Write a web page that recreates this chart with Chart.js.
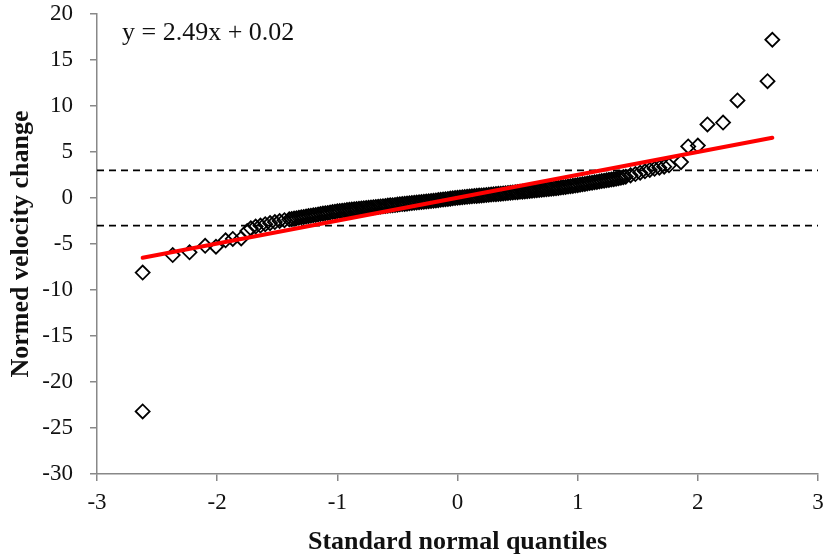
<!DOCTYPE html>
<html>
<head>
<meta charset="utf-8">
<script src="https://cdn.jsdelivr.net/npm/chart.js@4"></script>
<style>
  html, body { margin: 0; padding: 0; background: #fff; }
</style>
</head>
<body>
<canvas id="qqChart" width="827" height="558"></canvas>
<script>
// standard normal quantiles (x) and normed velocity change (y)
var quantiles = [
  -2.62, -2.62, -2.37, -2.23, -2.10, -2.01, -1.93, -1.87, -1.80, -1.75,
  -1.72, -1.68, -1.64, -1.60, -1.56, -1.52, -1.48, -1.44,
  -1.40, -1.38, -1.36, -1.34, -1.32, -1.30, -1.28, -1.26, -1.24, -1.22,
  -1.20, -1.18, -1.16, -1.14, -1.12, -1.10, -1.08, -1.06, -1.04, -1.02,
  -1.00, -0.98, -0.96, -0.94, -0.92, -0.90, -0.88, -0.86, -0.84, -0.82,
  -0.80, -0.78, -0.76, -0.74, -0.72, -0.70, -0.68, -0.66, -0.64, -0.62,
  -0.60, -0.58, -0.56, -0.54, -0.52, -0.50, -0.48, -0.46, -0.44, -0.42,
  -0.40, -0.38, -0.36, -0.34, -0.32, -0.30, -0.28, -0.26, -0.24, -0.22,
  -0.20, -0.18, -0.16, -0.14, -0.12, -0.10, -0.08, -0.06, -0.04, -0.02,
  0.00, 0.02, 0.04, 0.06, 0.08, 0.10, 0.12, 0.14, 0.16, 0.18,
  0.20, 0.22, 0.24, 0.26, 0.28, 0.30, 0.32, 0.34, 0.36, 0.38,
  0.40, 0.42, 0.44, 0.46, 0.48, 0.50, 0.52, 0.54, 0.56, 0.58,
  0.60, 0.62, 0.64, 0.66, 0.68, 0.70, 0.72, 0.74, 0.76, 0.78,
  0.80, 0.82, 0.84, 0.86, 0.88, 0.90, 0.92, 0.94, 0.96, 0.98,
  1.00, 1.02, 1.04, 1.06, 1.08, 1.10, 1.12, 1.14, 1.16, 1.18,
  1.20, 1.22, 1.24, 1.26, 1.28, 1.30, 1.32, 1.34, 1.36, 1.38,
  1.40,
  1.44, 1.48, 1.52, 1.56, 1.60, 1.64, 1.68, 1.72, 1.76, 1.86,
  1.92, 2.00, 2.08, 2.21, 2.33, 2.58, 2.62
];
var velocity = [
  -23.2, -8.1, -6.2, -5.9, -5.2, -5.3, -4.6, -4.45, -4.4, -3.6,
  -3.3, -3.1, -3.0, -2.85, -2.73, -2.61, -2.50, -2.41,
  -2.32, -2.28, -2.23, -2.19, -2.14, -2.10, -2.06, -2.01, -1.97, -1.92,
  -1.88, -1.84, -1.79, -1.75, -1.70, -1.66, -1.62, -1.58, -1.53, -1.49,
  -1.45, -1.42, -1.39, -1.35, -1.32, -1.29, -1.26, -1.23, -1.20, -1.17,
  -1.14, -1.11, -1.08, -1.06, -1.03, -1.00, -0.97, -0.94, -0.92, -0.89,
  -0.86, -0.83, -0.80, -0.78, -0.75, -0.72, -0.69, -0.66, -0.64, -0.61,
  -0.58, -0.55, -0.52, -0.50, -0.47, -0.44, -0.41, -0.38, -0.36, -0.33,
  -0.30, -0.27, -0.23, -0.20, -0.16, -0.13, -0.10, -0.07, -0.03, 0.00,
  0.03, 0.06, 0.08, 0.11, 0.13, 0.16, 0.18, 0.21, 0.23, 0.26,
  0.28, 0.30, 0.33, 0.35, 0.38, 0.40, 0.42, 0.45, 0.47, 0.50,
  0.52, 0.54, 0.57, 0.59, 0.62, 0.64, 0.67, 0.69, 0.72, 0.74,
  0.77, 0.80, 0.82, 0.85, 0.87, 0.90, 0.93, 0.96, 0.98, 1.01,
  1.04, 1.07, 1.10, 1.14, 1.17, 1.20, 1.24, 1.28, 1.32, 1.36,
  1.40, 1.44, 1.49, 1.53, 1.58, 1.62, 1.66, 1.71, 1.75, 1.80,
  1.84, 1.88, 1.92, 1.97, 2.01, 2.05, 2.10, 2.16, 2.21, 2.27,
  2.32,
  2.46, 2.60, 2.75, 2.90, 3.05, 3.17, 3.29, 3.41, 3.55, 3.90,
  5.6, 5.7, 8.0, 8.2, 10.6, 12.7, 17.2
];

// linear fit shown on the chart
var fitSlope = 2.49;
var fitIntercept = 0.02;

// dashed reference levels
var limitLevels = [3, -3];

var xRange = [-3, 3];
var yRange = [-30, 20];

var points = quantiles.map(function (q, i) { return { x: q, y: velocity[i] }; });
var xMin = Math.min.apply(null, quantiles);
var xMax = Math.max.apply(null, quantiles);
var fitLine = [
  { x: xMin, y: fitSlope * xMin + fitIntercept },
  { x: xMax, y: fitSlope * xMax + fitIntercept }
];

var datasets = [{
  label: "Fit",
  type: "line",
  data: fitLine,
  borderColor: "#ff0000",
  borderWidth: 4,
  pointRadius: 0,
  borderCapStyle: "round",
  order: 0
}, {
  label: "Normed velocity change",
  data: points,
  pointStyle: "rectRot",
  pointRadius: 7,
  pointHoverRadius: 7,
  pointBorderWidth: 1.8,
  borderColor: "#000",
  backgroundColor: "rgba(0,0,0,0)",
  order: 1
}];

limitLevels.forEach(function (lv) {
  datasets.push({
    label: "Limit " + lv,
    type: "line",
    data: [{ x: xRange[0], y: lv }, { x: xRange[1], y: lv }],
    borderColor: "#000",
    borderWidth: 1.8,
    borderDash: [7, 5],
    pointRadius: 0,
    order: 2
  });
});

var equationLabel = {
  id: "equationLabel",
  afterDraw: function (chart) {
    var ctx = chart.ctx;
    var area = chart.chartArea;
    ctx.save();
    ctx.font = "26px 'Liberation Serif'";
    ctx.fillStyle = "#111";
    ctx.textBaseline = "middle";
    ctx.fillText("y = " + fitSlope.toFixed(2) + "x + " + fitIntercept.toFixed(2), area.left + 25, area.top + 19);
    ctx.restore();
  }
};

var axisColor = "#888";
var tickFont = { family: "'Liberation Serif'", size: 23 };
var titleFont = { family: "'Liberation Serif'", size: 26, weight: "bold" };

new Chart("qqChart", {
  type: "scatter",
  data: { datasets: datasets },
  plugins: [equationLabel],
  options: {
    responsive: false,
    animation: false,
    layout: { padding: 0 },
    plugins: {
      legend: { display: false },
      tooltip: { enabled: false }
    },
    scales: {
      x: {
        type: "linear",
        min: xRange[0],
        max: xRange[1],
        afterFit: function (scale) {
          scale.height = 84;
          scale.paddingLeft = 0;
          scale.paddingRight = 9;
        },
        border: { color: axisColor, width: 1.5 },
        grid: { drawOnChartArea: false, drawTicks: true, tickLength: 7, color: axisColor, lineWidth: 1.5 },
        ticks: { stepSize: 1, color: "#111", font: tickFont, padding: 8 },
        title: {
          display: true,
          text: "Standard normal quantiles",
          color: "#111",
          font: titleFont,
          padding: { top: 0, bottom: 0 }
        }
      },
      y: {
        type: "linear",
        min: yRange[0],
        max: yRange[1],
        afterFit: function (scale) {
          scale.width = 97;
          scale.paddingTop = 14;
          scale.paddingBottom = 0;
        },
        border: { color: axisColor, width: 1.5 },
        grid: { drawOnChartArea: false, drawTicks: true, tickLength: 7, color: axisColor, lineWidth: 1.5 },
        ticks: { stepSize: 5, color: "#111", font: tickFont, padding: 17 },
        title: {
          display: true,
          text: "Normed velocity change",
          color: "#111",
          font: titleFont,
          padding: { top: 6, bottom: 0 }
        }
      }
    }
  }
});
</script>
</body>
</html>
